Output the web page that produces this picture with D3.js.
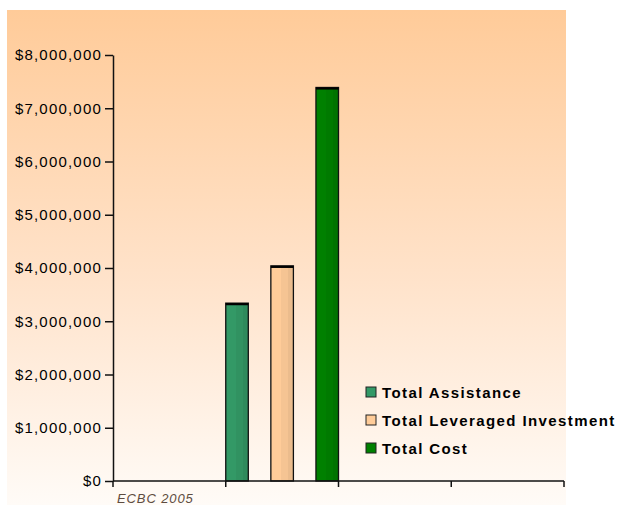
<!DOCTYPE html>
<html>
<head>
<meta charset="utf-8">
<script src="https://cdn.jsdelivr.net/npm/d3@7"></script>
<style>
  html, body { margin: 0; padding: 0; background: #ffffff; }
  svg { display: block; font-family: Arial, "Liberation Sans", sans-serif; }
</style>
</head>
<body>
<svg id="chart" width="628" height="505"></svg>
<script>
// Funding totals (US dollars)
const seriesNames = ["Total Assistance", "Total Leveraged Investment", "Total Cost"];
const seriesValues = [3340000, 4040000, 7390000];
const seriesColors = ["#339966", "#FFCC99", "#008000"];
const seriesShades = ["#2E8A5C", "#EBBC8D", "#007300"];

// Category slots along the x axis; the bars sit in the second slot
const slots = ["a", "b", "c", "d"];
const barSlot = "b";

const yTicks = [0, 1000000, 2000000, 3000000, 4000000, 5000000, 6000000, 7000000, 8000000];
const note = "ECBC 2005";

const svg = d3.select("#chart");
const defs = svg.append("defs");

// Panel background: warm peach fading to near white
const bg = defs.append("linearGradient").attr("id", "bgGrad")
  .attr("x1", 0).attr("y1", 0).attr("x2", 0).attr("y2", 1);
bg.append("stop").attr("offset", "0%").attr("stop-color", "#FFCB99");
bg.append("stop").attr("offset", "55%").attr("stop-color", "#FFE3CB");
bg.append("stop").attr("offset", "100%").attr("stop-color", "#FFFBF7");

svg.append("rect")
  .attr("x", 7).attr("y", 10).attr("width", 559).attr("height", 495)
  .attr("fill", "url(#bgGrad)");

const plot = { left: 113, right: 564, top: 55, bottom: 481 };

const y = d3.scaleLinear().domain([0, 8000000]).range([plot.bottom, plot.top]);
const x = d3.scaleBand().domain(slots).range([plot.left, plot.right]).padding(0);
const xInner = d3.scaleBand().domain(seriesNames)
  .range([x(barSlot), x(barSlot) + x.bandwidth()])
  .paddingInner(0.5).paddingOuter(0);

// Per-bar horizontal shading
seriesNames.forEach((name, i) => {
  const g = defs.append("linearGradient").attr("id", "barGrad" + i)
    .attr("x1", 0).attr("y1", 0).attr("x2", 1).attr("y2", 0);
  const mid = d3.interpolateRgb(seriesColors[i], seriesShades[i])(0.5);
  g.append("stop").attr("offset", "0%").attr("stop-color", seriesColors[i]);
  g.append("stop").attr("offset", "45%").attr("stop-color", seriesColors[i]);
  g.append("stop").attr("offset", "45%").attr("stop-color", mid);
  g.append("stop").attr("offset", "75%").attr("stop-color", mid);
  g.append("stop").attr("offset", "75%").attr("stop-color", seriesShades[i]);
  g.append("stop").attr("offset", "100%").attr("stop-color", seriesShades[i]);
});

const bars = seriesNames.map((name, i) => ({ name, value: seriesValues[i], i }));

const barG = svg.append("g");
barG.selectAll("rect.bar").data(bars).enter().append("rect")
  .attr("class", "bar")
  .attr("x", d => xInner(d.name))
  .attr("y", d => y(d.value))
  .attr("width", xInner.bandwidth())
  .attr("height", d => y(0) - y(d.value))
  .attr("fill", d => `url(#barGrad${d.i})`)
  .attr("stroke", "#111")
  .attr("stroke-width", 1.3);

// Darker cap along each bar's top edge
barG.selectAll("line.cap").data(bars).enter().append("line")
  .attr("class", "cap")
  .attr("x1", d => xInner(d.name))
  .attr("x2", d => xInner(d.name) + xInner.bandwidth())
  .attr("y1", d => y(d.value) + 1)
  .attr("y2", d => y(d.value) + 1)
  .attr("stroke", "#000")
  .attr("stroke-width", 2.2);

// Y axis
const yAxis = d3.axisLeft(y)
  .tickValues(yTicks)
  .tickSize(8)
  .tickSizeOuter(0)
  .tickPadding(4)
  .tickFormat(d => "$" + d3.format(",")(d));

const yg = svg.append("g").attr("transform", `translate(${plot.left},0)`).call(yAxis);
yg.select(".domain").attr("stroke", "#111").attr("stroke-width", 1.5);
yg.selectAll(".tick line").attr("stroke", "#111").attr("stroke-width", 1.5);
yg.selectAll(".tick text")
  .attr("font-size", 15)
  .attr("fill", "#000")
  .style("letter-spacing", "1.2px")
  .attr("dx", 1);

// X axis: baseline with ticks at slot boundaries
const bounds = slots.map(s => x(s)).concat([x(slots[slots.length - 1]) + x.bandwidth()]);
const xg = svg.append("g");
xg.append("line")
  .attr("x1", plot.left).attr("x2", plot.right)
  .attr("y1", y(0)).attr("y2", y(0))
  .attr("stroke", "#111").attr("stroke-width", 1.5);
xg.selectAll("line.xt").data(bounds).enter().append("line")
  .attr("class", "xt")
  .attr("x1", d => d).attr("x2", d => d)
  .attr("y1", y(0)).attr("y2", y(0) + 6)
  .attr("stroke", "#111").attr("stroke-width", 1.5);

svg.append("text")
  .attr("x", 117).attr("y", 503)
  .attr("font-size", 13)
  .attr("font-style", "italic")
  .attr("fill", "#5E4C40")
  .style("letter-spacing", "0.9px")
  .text(note);

// Legend
const legend = svg.append("g").attr("transform", "translate(366,392)");
const rows = legend.selectAll("g").data(bars).enter().append("g")
  .attr("transform", d => `translate(0,${d.i * 28})`);
rows.append("rect")
  .attr("x", 0).attr("y", -5).attr("width", 10).attr("height", 10)
  .attr("fill", d => seriesColors[d.i])
  .attr("stroke", "#222").attr("stroke-width", 1);
rows.append("text")
  .attr("x", 16).attr("y", 5.5)
  .attr("font-size", 15)
  .attr("font-weight", "bold")
  .attr("fill", "#000")
  .style("letter-spacing", "1.4px")
  .text(d => d.name);
</script>
</body>
</html>
